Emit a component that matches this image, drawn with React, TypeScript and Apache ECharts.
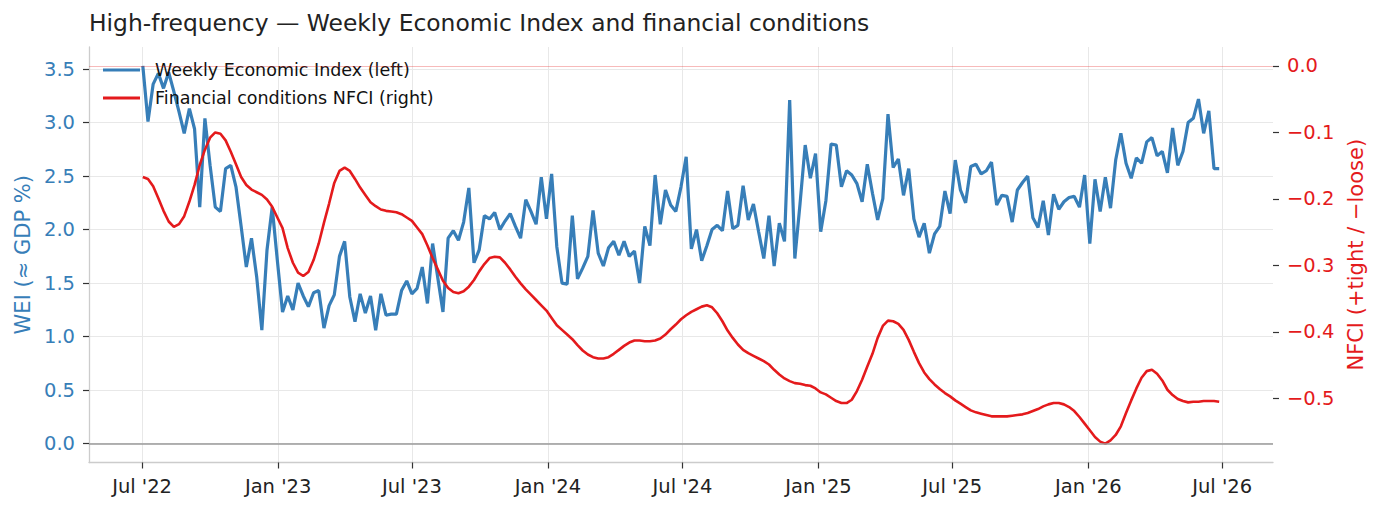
import React, { useEffect, useRef } from "react";
import * as echarts from "echarts";

// Weekly observations, first week ending 2022-07-02
const START = Date.UTC(2022, 6, 2);
const WEEK_MS = 7 * 86400000;

const weiValues: number[] = [
  3.53, 3.01, 3.36, 3.46, 3.32, 3.47, 3.29, 3.10, 2.90, 3.13,
  2.94, 2.21, 3.04, 2.60, 2.21, 2.17, 2.57, 2.60, 2.40, 2.03,
  1.65, 1.92, 1.56, 1.06, 1.81, 2.21, 1.71, 1.23, 1.38, 1.25,
  1.50, 1.38, 1.28, 1.41, 1.43, 1.08, 1.29, 1.39, 1.75, 1.89,
  1.37, 1.14, 1.40, 1.22, 1.38, 1.06, 1.40, 1.20, 1.21, 1.21,
  1.43, 1.52, 1.40, 1.45, 1.65, 1.31, 1.87, 1.55, 1.23, 1.92,
  1.99, 1.90, 2.07, 2.39, 1.69, 1.81, 2.13, 2.10, 2.16, 2.00,
  2.08, 2.15, 2.03, 1.92, 2.28, 2.17, 2.05, 2.49, 2.10, 2.52,
  1.84, 1.50, 1.49, 2.13, 1.54, 1.64, 1.75, 2.18, 1.78, 1.66,
  1.83, 1.89, 1.76, 1.89, 1.75, 1.80, 1.50, 2.03, 1.85, 2.51,
  2.05, 2.37, 2.23, 2.17, 2.40, 2.68, 1.82, 2.00, 1.71, 1.85,
  2.00, 2.04, 1.99, 2.36, 2.01, 2.04, 2.41, 2.09, 2.24, 1.98,
  1.73, 2.13, 1.66, 2.06, 1.89, 3.21, 1.73, 2.24, 2.79, 2.48,
  2.71, 1.98, 2.27, 2.80, 2.79, 2.40, 2.55, 2.51, 2.43, 2.26,
  2.61, 2.34, 2.09, 2.29, 3.08, 2.58, 2.66, 2.32, 2.57, 2.10,
  1.93, 2.06, 1.78, 1.96, 2.03, 2.36, 2.15, 2.65, 2.37, 2.25,
  2.59, 2.61, 2.52, 2.55, 2.63, 2.23, 2.32, 2.31, 2.07, 2.37,
  2.44, 2.50, 2.11, 2.02, 2.27, 1.95, 2.33, 2.19, 2.26, 2.30,
  2.31, 2.21, 2.51, 1.87, 2.47, 2.17, 2.49, 2.20, 2.65, 2.90,
  2.62, 2.48, 2.67, 2.62, 2.82, 2.86, 2.69, 2.73, 2.53, 2.95,
  2.60, 2.73, 3.00, 3.04, 3.22, 2.90, 3.11, 2.57, 2.57,
];

const nfciValues: number[] = [
  -0.167, -0.170, -0.181, -0.199, -0.218, -0.234, -0.242, -0.238, -0.226, -0.204,
  -0.179, -0.149, -0.126, -0.108, -0.100, -0.102, -0.112, -0.129, -0.148, -0.167,
  -0.179, -0.186, -0.190, -0.194, -0.201, -0.212, -0.228, -0.244, -0.274, -0.296,
  -0.311, -0.316, -0.310, -0.292, -0.267, -0.236, -0.207, -0.176, -0.158, -0.153,
  -0.158, -0.170, -0.183, -0.194, -0.205, -0.211, -0.216, -0.218, -0.219, -0.220,
  -0.223, -0.228, -0.233, -0.243, -0.253, -0.270, -0.289, -0.306, -0.323, -0.334,
  -0.340, -0.342, -0.339, -0.332, -0.322, -0.309, -0.298, -0.289, -0.287, -0.288,
  -0.296, -0.306, -0.317, -0.327, -0.336, -0.344, -0.352, -0.360, -0.368, -0.379,
  -0.390, -0.397, -0.404, -0.411, -0.420, -0.428, -0.434, -0.438, -0.440, -0.440,
  -0.438, -0.433, -0.427, -0.421, -0.416, -0.413, -0.413, -0.414, -0.414, -0.413,
  -0.410, -0.404, -0.396, -0.389, -0.381, -0.375, -0.370, -0.366, -0.362, -0.360,
  -0.363, -0.372, -0.384, -0.398, -0.409, -0.419, -0.427, -0.432, -0.436, -0.440,
  -0.444, -0.449, -0.457, -0.464, -0.470, -0.474, -0.477, -0.478, -0.480, -0.481,
  -0.485, -0.491, -0.494, -0.499, -0.504, -0.507, -0.507, -0.502, -0.489, -0.472,
  -0.452, -0.433, -0.409, -0.391, -0.383, -0.384, -0.388, -0.397, -0.412, -0.430,
  -0.447, -0.461, -0.471, -0.479, -0.486, -0.492, -0.497, -0.503, -0.508, -0.513,
  -0.518, -0.521, -0.523, -0.525, -0.527, -0.527, -0.527, -0.527, -0.526, -0.525,
  -0.524, -0.522, -0.519, -0.516, -0.512, -0.509, -0.507, -0.507, -0.509, -0.513,
  -0.519, -0.528, -0.538, -0.548, -0.558, -0.565, -0.568, -0.563, -0.555, -0.542,
  -0.522, -0.503, -0.485, -0.469, -0.459, -0.457, -0.463, -0.473, -0.487, -0.495,
  -0.501, -0.504, -0.506, -0.505, -0.505, -0.504, -0.504, -0.504, -0.505,
];

const xTickDates: number[] = [
  Date.UTC(2022, 6, 1), Date.UTC(2023, 0, 1), Date.UTC(2023, 6, 1),
  Date.UTC(2024, 0, 1), Date.UTC(2024, 6, 1), Date.UTC(2025, 0, 1),
  Date.UTC(2025, 6, 1), Date.UTC(2026, 0, 1), Date.UTC(2026, 6, 1),
];
const xTickLabels: string[] = [
  "Jul '22", "Jan '23", "Jul '23", "Jan '24", "Jul '24",
  "Jan '25", "Jul '25", "Jan '26", "Jul '26",
];
const weiTicks: number[] = [0, 0.5, 1, 1.5, 2, 2.5, 3, 3.5];
const nfciTicks: number[] = [-0.5, -0.4, -0.3, -0.2, -0.1, 0];

const TITLE = "High-frequency \u2014 Weekly Economic Index and financial conditions";
const WEI_NAME = "Weekly Economic Index (left)";
const NFCI_NAME = "Financial conditions NFCI (right)";

const BLUE = "#377eb8";
const RED = "#e41a1c";
const FONT = "DejaVu Sans";
const TICK_FS = 19.5;
const NAME_FS = 21;

function padRange(vals: number[], includeZero: boolean): [number, number] {
  let lo = Math.min(...vals);
  let hi = Math.max(...vals);
  if (includeZero) {
    lo = Math.min(lo, 0);
    hi = Math.max(hi, 0);
  }
  const p = (hi - lo) * 0.05;
  return [lo - p, hi + p];
}

export default function App() {
  const ref = useRef<HTMLDivElement>(null);

  useEffect(() => {
    if (!ref.current) return;
    const chart = echarts.init(ref.current, null, { renderer: "svg" });

    const dates = weiValues.map((_, i) => START + i * WEEK_MS);
    const weiData = weiValues.map((v, i) => [dates[i], v]);
    const nfciData = nfciValues.map((v, i) => [dates[i], v]);

    const span = dates[dates.length - 1] - dates[0];
    const xMin = dates[0] - span * 0.05;
    const xMax = dates[dates.length - 1] + span * 0.05;
    const [wMin, wMax] = padRange(weiValues, true);
    const [nMin, nMax] = padRange(nfciValues, true);

    const option: any = {
      animation: false,
      backgroundColor: "#ffffff",
      textStyle: { fontFamily: FONT },
      title: {
        text: TITLE,
        left: 89,
        top: 9,
        padding: 0,
        textStyle: {
          fontFamily: FONT,
          fontSize: 23.4,
          fontWeight: "normal",
          color: "#222222",
          lineHeight: 28,
        },
      },
      legend: {
        orient: "vertical",
        left: 103,
        top: 60,
        padding: 0,
        itemGap: 8,
        itemWidth: 37,
        itemHeight: 3,
        icon: "rect",
        selectedMode: false,
        data: [WEI_NAME, NFCI_NAME],
        textStyle: {
          fontFamily: FONT,
          fontSize: 17.5,
          color: "#111111",
          lineHeight: 20,
          padding: [0, 0, 0, 10],
        },
      },
      grid: { left: 89, right: 106, top: 47, bottom: 48.5, containLabel: false },
      xAxis: {
        type: "value",
        min: xMin,
        max: xMax,
        scale: true,
        axisLine: { show: true, onZero: false, lineStyle: { color: "#cccccc", width: 1.3 } },
        axisTick: {
          show: true,
          length: 6,
          customValues: xTickDates,
          lineStyle: { color: "#333333", width: 1.2 },
        },
        axisLabel: {
          customValues: xTickDates,
          margin: 14,
          fontSize: TICK_FS,
          fontFamily: FONT,
          color: "#222222",
          formatter: (v: number) => {
            const idx = xTickDates.findIndex((d) => Math.abs(d - v) < 86400000);
            return idx >= 0 ? xTickLabels[idx] : "";
          },
        },
        splitLine: { show: true, lineStyle: { color: "#e8e8e8", width: 1 } },
      },
      yAxis: [
        {
          type: "value",
          position: "left",
          min: wMin,
          max: wMax,
          name: "WEI (\u2248 GDP %)",
          nameLocation: "middle",
          nameGap: 56,
          nameRotate: 90,
          nameTextStyle: { color: BLUE, fontSize: NAME_FS, fontFamily: FONT },
          axisLine: { show: true, onZero: false, lineStyle: { color: "#cccccc", width: 1.3 } },
          axisTick: {
            show: true,
            length: 6,
            customValues: weiTicks,
            lineStyle: { color: "#333333", width: 1.2 },
          },
          axisLabel: {
            customValues: weiTicks,
            margin: 14,
            fontSize: TICK_FS,
            fontFamily: FONT,
            color: BLUE,
            formatter: (v: number) => v.toFixed(1),
          },
          splitLine: { show: true, lineStyle: { color: "#e8e8e8", width: 1 } },
        },
        {
          type: "value",
          position: "right",
          min: nMin,
          max: nMax,
          name: "NFCI (+tight / \u2212loose)",
          nameLocation: "middle",
          nameGap: 69,
          nameRotate: 90,
          nameTextStyle: { color: RED, fontSize: NAME_FS, fontFamily: FONT },
          axisLine: { show: false, onZero: false },
          axisTick: {
            show: true,
            length: 6,
            customValues: nfciTicks,
            lineStyle: { color: "#333333", width: 1.2 },
          },
          axisLabel: {
            customValues: nfciTicks,
            margin: 14,
            fontSize: TICK_FS,
            fontFamily: FONT,
            color: RED,
            formatter: (v: number) =>
              Math.abs(v) < 1e-9 ? "0.0" : (v < 0 ? "\u2212" : "") + Math.abs(v).toFixed(1),
          },
          splitLine: { show: false },
        },
      ],
      series: [
        {
          name: WEI_NAME,
          type: "line",
          yAxisIndex: 0,
          data: weiData,
          showSymbol: false,
          symbol: "none",
          z: 2,
          color: BLUE,
          lineStyle: { color: BLUE, width: 3.2 },
          markLine: {
            silent: true,
            symbol: ["none", "none"],
            label: { show: false },
            lineStyle: { color: "#9a9a9a", width: 1.6, type: "solid" },
            data: [{ yAxis: 0 }],
          },
        },
        {
          name: NFCI_NAME,
          type: "line",
          yAxisIndex: 1,
          data: nfciData,
          showSymbol: false,
          symbol: "none",
          z: 3,
          color: RED,
          lineStyle: { color: RED, width: 2.6 },
          markLine: {
            silent: true,
            symbol: ["none", "none"],
            label: { show: false },
            lineStyle: { color: "rgba(228,26,28,0.3)", width: 1, type: "solid" },
            data: [{ yAxis: 0 }],
          },
        },
      ],
    };

    chart.setOption(option);
    return () => chart.dispose();
  }, []);

  return (
    <div
      ref={ref}
      style={{ position: "fixed", left: 0, top: 0, width: 1379, height: 511, background: "#fff" }}
    />
  );
}
